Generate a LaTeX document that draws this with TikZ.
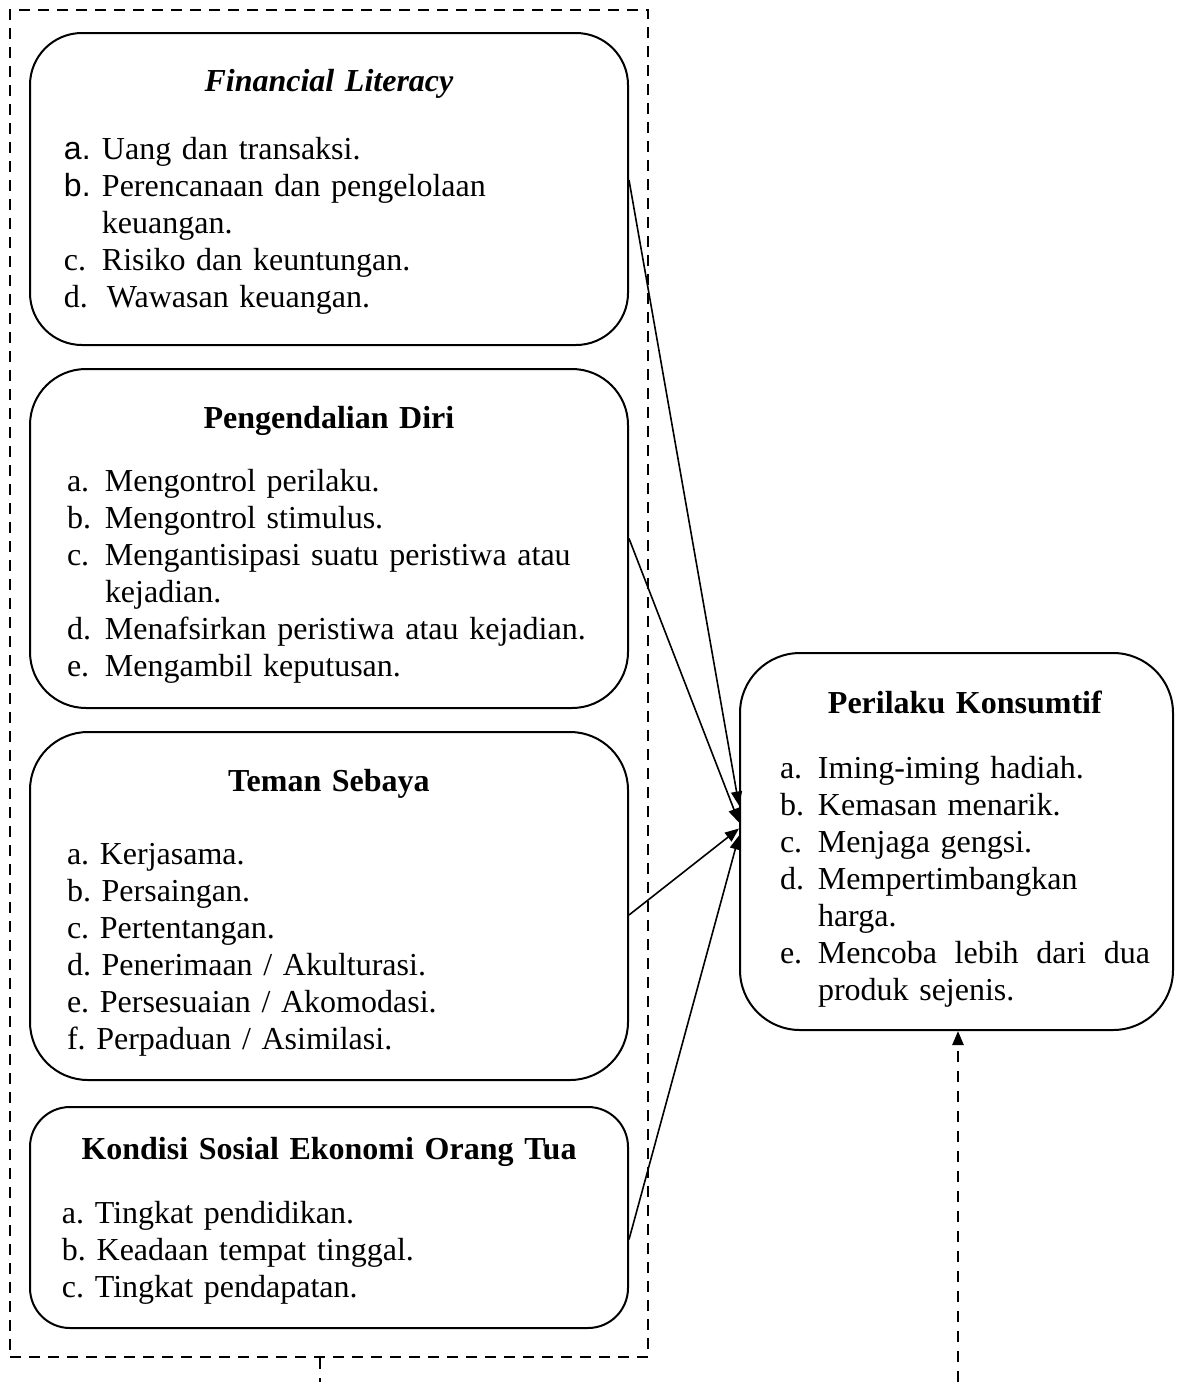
\documentclass[tikz,border=0pt]{standalone}
\usepackage{fontspec}
\setmainfont{Liberation Serif}
\newfontfamily\lblfont{Liberation Sans}
\usetikzlibrary{arrows.meta}
\newcommand{\itm}[2]{\par\hangindent=38pt\hangafter=1\noindent\makebox[38pt][l]{#1}#2}
\newcommand{\nxt}{\hfil\break}
\newcommand{\boxbody}[4]{\noindent\hspace*{#1}\begin{minipage}{#2}\frenchspacing\vspace*{#3}#4\end{minipage}}
\begin{document}
\begin{tikzpicture}[x=1pt, y=-1pt, font=\fontsize{32}{37}\selectfont,
  box/.style={draw, line width=2pt, rounded corners=#1, inner sep=0pt, align=left},
  grp/.style={draw, line width=2.5pt, dash pattern=on 11pt off 8pt, inner sep=0pt},
  dsh/.style={line width=2.5pt, dash pattern=on 11pt off 9pt},
  arr/.style={line width=1.6pt, -{Triangle[length=14pt, width=11pt]}}]
  \useasboundingbox (0,0) rectangle (1190,1382);
  \node[grp, minimum width=638pt, minimum height=1347pt] (grp) at (329,683.5) {};
  \node[box=52, text width=598pt, minimum height=312pt] (fin) at (329,189) {\boxbody{34pt}{530pt}{6pt}{%
    \centering\textbf{\textit{Financial Literacy}}\par\vspace{31pt}\raggedright
    \itm{\lblfont a.}{Uang dan transaksi.}
    \itm{\lblfont b.}{Perencanaan dan pengelolaan\nxt keuangan.}
    \itm{c.}{Risiko dan keuntungan.}
    \itm{d.}{\hspace{5pt}Wawasan keuangan.}}};
  \node[box=56, text width=598pt, minimum height=339pt] (pd) at (329,538.5) {\boxbody{37pt}{524pt}{12pt}{%
    \centering\textbf{Pengendalian Diri}\par\vspace{26pt}\raggedright
    \itm{a.}{Mengontrol perilaku.}
    \itm{b.}{Mengontrol stimulus.}
    \itm{c.}{Mengantisipasi suatu peristiwa atau\nxt kejadian.}
    \itm{d.}{Menafsirkan peristiwa atau kejadian.}
    \itm{e.}{Mengambil keputusan.}}};
  \node[box=58, text width=598pt, minimum height=348pt] (ts) at (329,906) {\boxbody{37pt}{524pt}{14pt}{%
    \centering\textbf{Teman Sebaya}\par\vspace{36pt}\raggedright
    a. Kerjasama.\\
    b. Persaingan.\\
    c. Pertentangan.\\
    d. Penerimaan / Akulturasi.\\
    e. Persesuaian / Akomodasi.\\
    f. Perpaduan / Asimilasi.}};
  \node[box=40, text width=598pt, minimum height=221pt] (ks) at (329,1217.5) {\boxbody{32pt}{534pt}{6pt}{%
    \centering\textbf{Kondisi Sosial Ekonomi Orang Tua}\par\vspace{27pt}\raggedright
    a. Tingkat pendidikan.\\
    b. Keadaan tempat tinggal.\\
    c. Tingkat pendapatan.}};
  \node[box=60, text width=433pt, minimum height=377pt] (pk) at (956.5,841.5) {\boxbody{40pt}{370pt}{16pt}{%
    {\centering\textbf{Perilaku Konsumtif}\par}\vspace{28pt}\raggedright
    \itm{a.}{Iming-iming hadiah.}
    \itm{b.}{Kemasan menarik.}
    \itm{c.}{Menjaga gengsi.}
    \itm{d.}{Mempertimbangkan\nxt harga.}
    \itm{e.}{\hbox to 332pt{Mencoba\hfil lebih\hfil dari\hfil dua}\nxt produk sejenis.}}};
  \foreach \src/\a/\b in {fin/9/36, pd/0/19, ts/-9/13, ks/-22/6}
    \draw[arr] ([yshift=\a]\src.east) -- ([yshift=\b]pk.west);
  \coordinate (lo) at (320,1382);
  \coordinate (ro) at (958,1382);
  \draw[dsh] (grp.south -| lo) -- (lo);
  \draw[dsh, -{Triangle[length=14pt, width=11pt]}] (ro) -- (ro |- pk.south);
\end{tikzpicture}
\end{document}
